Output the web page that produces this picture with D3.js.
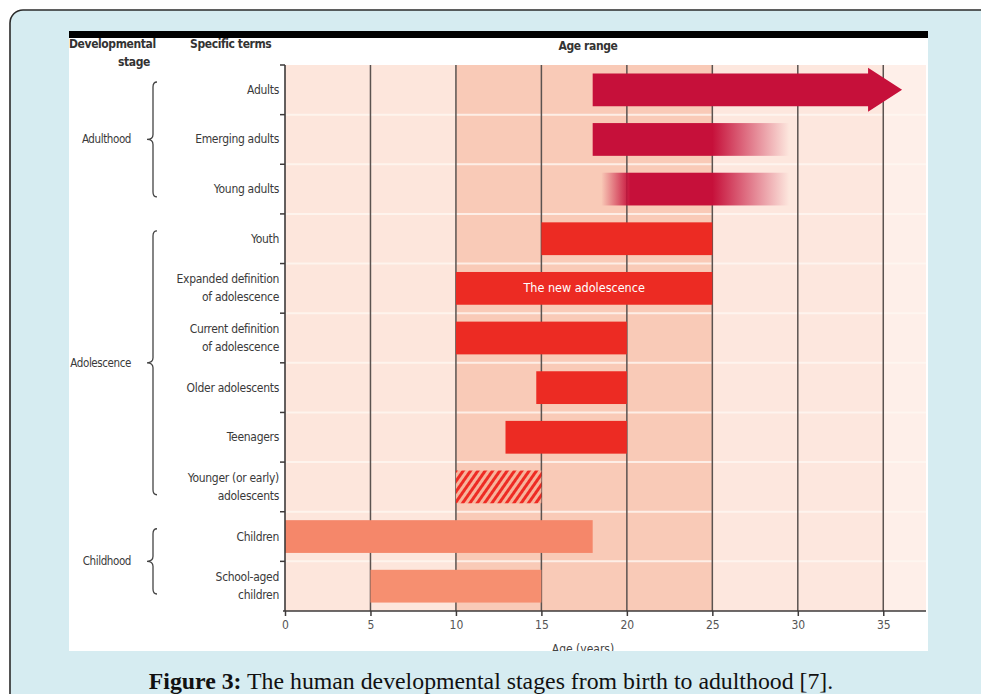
<!DOCTYPE html>
<html><head><meta charset="utf-8">
<style>body{margin:0;background:#fff}svg{display:block}</style>
</head><body>
<div id="container"></div>
<script src="https://cdn.jsdelivr.net/npm/d3@7"></script>
<script>
// rows, top to bottom
const terms = [["Adults"], ["Emerging adults"], ["Young adults"], ["Youth"],
  ["Expanded definition", "of adolescence"], ["Current definition", "of adolescence"],
  ["Older adolescents"], ["Teenagers"], ["Younger (or early)", "adolescents"],
  ["Children"], ["School-aged", "children"]];
const stageOf = ["Adulthood", "Adulthood", "Adulthood", "Adolescence", "Adolescence", "Adolescence",
  "Adolescence", "Adolescence", "Adolescence", "Childhood", "Childhood"];
const startAge = [18, 18, 18.5, 15, 10, 10, 14.7, 12.9, 10, 0, 5];
const endAge = [36.1, 29.5, 29.5, 25, 25, 20, 20, 20, 15, 18, 15];
const fadeInUntil = [null, null, 20.2, null, null, null, null, null, null, null, null];
const fadeOutFrom = [null, 25, 25, null, null, null, null, null, null, null, null];
const barText = ["", "", "", "", "The new adolescence", "", "", "", "", "", ""];
const stages = ["Adulthood", "Adolescence", "Childhood"];
const xTicks = [0, 5, 10, 15, 20, 25, 30, 35];
const shadeFrom = [0, 10, 25, 35];
const shadeTo = [10, 25, 35, 37.5];

const W = 981, H = 694;
const svg = d3.select("#container").append("svg").attr("width", W).attr("height", H);
const defs = svg.append("defs");
const sans = "'Liberation Sans Narrow', 'DejaVu Sans Condensed', sans-serif";

// outer page frame
svg.append("rect").attr("x", 10).attr("y", 10).attr("width", 1100).attr("height", 800)
  .attr("rx", 13).attr("fill", "#d6ecf1").attr("stroke", "#2b2b2b").attr("stroke-width", 1.6);

// figure panel
defs.append("clipPath").attr("id", "panel")
  .append("rect").attr("x", 69).attr("y", 31).attr("width", 859).attr("height", 620);
const panel = svg.append("g").attr("clip-path", "url(#panel)");
panel.append("rect").attr("x", 69).attr("y", 31).attr("width", 859).attr("height", 620).attr("fill", "#fff");
panel.append("rect").attr("x", 69).attr("y", 31).attr("width", 859).attr("height", 7).attr("fill", "#000");

const x = d3.scaleLinear().domain([0, 37.5]).range([285, 926]);
const y = d3.scaleBand().domain(d3.range(terms.length)).range([65, 611]).paddingInner(0.34).paddingOuter(0.17);
const step = y.step();
const rowTop = i => 65 + i * step;

// background shading
const shadeCol = ["#fde6dc", "#f9cab7", "#fde7de", "#feefe9"];
panel.append("g").selectAll("rect").data(shadeFrom).join("rect")
  .attr("x", d => x(d)).attr("width", (d, i) => x(shadeTo[i]) - x(d))
  .attr("y", 65).attr("height", 611 - 65).attr("fill", (d, i) => shadeCol[i]);

// light row separators
panel.append("g").selectAll("line").data(d3.range(1, terms.length)).join("line")
  .attr("x1", x(0) + 1).attr("x2", x(37.5)).attr("y1", rowTop).attr("y2", rowTop)
  .attr("stroke", "#fff8f2").attr("stroke-width", 2).attr("opacity", 0.8);

// vertical grid
panel.append("g").selectAll("line").data(xTicks.slice(1)).join("line")
  .attr("x1", d => x(d)).attr("x2", d => x(d)).attr("y1", 65).attr("y2", 611)
  .attr("stroke", "#5b5350").attr("stroke-width", 1.5);

// hatch pattern
const pat = defs.append("pattern").attr("id", "hatch").attr("patternUnits", "userSpaceOnUse")
  .attr("width", 6).attr("height", 6).attr("patternTransform", "rotate(35)");
pat.append("rect").attr("width", 6).attr("height", 6).attr("fill", "#f7b39b");
pat.append("rect").attr("width", 3).attr("height", 6).attr("fill", "#ee2b24");

function colorOf(i) {
  if (stageOf[i] === "Adulthood") return "#c6103a";
  if (stageOf[i] === "Adolescence") return "#ec2b23";
  return i === 9 ? "#f5876a" : "#f68f70";
}

// gradients for faded bars
terms.forEach((t, i) => {
  if (fadeInUntil[i] == null && fadeOutFrom[i] == null) return;
  const a = startAge[i], b = endAge[i];
  const g = defs.append("linearGradient").attr("id", "fade" + i)
    .attr("gradientUnits", "userSpaceOnUse")
    .attr("x1", x(a)).attr("x2", x(b)).attr("y1", 0).attr("y2", 0);
  const c = colorOf(i);
  const off = v => (v - a) / (b - a);
  g.append("stop").attr("offset", 0).attr("stop-color", c).attr("stop-opacity", fadeInUntil[i] == null ? 1 : 0);
  if (fadeInUntil[i] != null) g.append("stop").attr("offset", off(fadeInUntil[i])).attr("stop-color", c).attr("stop-opacity", 1);
  if (fadeOutFrom[i] != null) g.append("stop").attr("offset", off(fadeOutFrom[i])).attr("stop-color", c).attr("stop-opacity", 1);
  g.append("stop").attr("offset", 1).attr("stop-color", c).attr("stop-opacity", 0);
});

// bars
const bars = panel.append("g");
terms.forEach((t, i) => {
  const y0 = y(i), h = y.bandwidth();
  let fill = colorOf(i);
  if (fadeInUntil[i] != null || fadeOutFrom[i] != null) fill = "url(#fade" + i + ")";
  if (i === 8) fill = "url(#hatch)";
  if (i === 0) {
    // arrow
    const x0 = x(startAge[i]), tip = x(endAge[i]), neck = tip - 34, cy = y0 + h / 2;
    bars.append("path")
      .attr("d", `M${x0},${y0}L${neck},${y0}L${neck},${cy - 22}L${tip},${cy}L${neck},${cy + 22}L${neck},${y0 + h}L${x0},${y0 + h}Z`)
      .attr("fill", fill);
  } else {
    bars.append("rect").attr("x", x(startAge[i])).attr("width", x(endAge[i]) - x(startAge[i]))
      .attr("y", y0).attr("height", h).attr("fill", fill);
  }
  if (barText[i]) {
    bars.append("text").attr("x", (x(startAge[i]) + x(endAge[i])) / 2).attr("y", y0 + h / 2 + 4)
      .attr("text-anchor", "middle").attr("fill", "#fff").attr("font-family", sans)
      .attr("font-size", 12.5).text(barText[i]);
  }
});

// axes
const xAxis = panel.append("g").attr("transform", "translate(0,611)")
  .call(d3.axisBottom(x).tickValues(xTicks).tickSize(5).tickPadding(4));
xAxis.select(".domain").attr("d", `M${x(0) - 2},0H${x(37.5)}`).attr("stroke", "#3d3a3a").attr("stroke-width", 1.6);
xAxis.selectAll(".tick line").attr("stroke", "#3d3a3a").attr("stroke-width", 1.5);
xAxis.selectAll(".tick text").attr("font-family", sans).attr("font-size", 12).attr("fill", "#555");

panel.append("line").attr("x1", x(0)).attr("x2", x(0)).attr("y1", 65).attr("y2", 611)
  .attr("stroke", "#3d3a3a").attr("stroke-width", 1.6);
panel.append("g").selectAll("line").data(d3.range(terms.length)).join("line")
  .attr("x1", x(0) - 5).attr("x2", x(0)).attr("y1", rowTop).attr("y2", rowTop)
  .attr("stroke", "#3d3a3a").attr("stroke-width", 1.5);

// term labels
terms.forEach((t, i) => {
  const cy = y(i) + y.bandwidth() / 2;
  const txt = panel.append("text").attr("text-anchor", "end").attr("font-family", sans)
    .attr("font-size", 12).attr("fill", "#3a3a3a").attr("letter-spacing", -0.3);
  t.forEach((line, k) => {
    txt.append("tspan").attr("x", 279).attr("y", cy + 4 + (k - (t.length - 1) / 2) * 18).text(line);
  });
});

// stage labels and braces
stages.forEach(s => {
  const rows = d3.range(terms.length).filter(i => stageOf[i] === s);
  const top = rowTop(rows[0]) + 17, bot = rowTop(rows[rows.length - 1] + 1) - 17;
  const mid = (rowTop(rows[0]) + rowTop(rows[rows.length - 1] + 1)) / 2;
  const bx = 153;
  panel.append("path")
    .attr("d", `M${bx + 4},${top}Q${bx},${top} ${bx},${top + 5}L${bx},${mid - 5}Q${bx},${mid} ${bx - 6},${mid}` +
      `Q${bx},${mid} ${bx},${mid + 5}L${bx},${bot - 5}Q${bx},${bot} ${bx + 4},${bot}`)
    .attr("fill", "none").attr("stroke", "#444").attr("stroke-width", 1.3);
  panel.append("text").attr("x", 131).attr("y", mid + 4).attr("text-anchor", "end")
    .attr("font-family", sans).attr("font-size", 11.5).attr("fill", "#3a3a3a").attr("letter-spacing", -0.4).text(s);
});

// headers
const hdr = (tx, ty, s, anchor) => panel.append("text").attr("x", tx).attr("y", ty)
  .attr("text-anchor", anchor).attr("font-family", sans).attr("font-weight", "bold")
  .attr("font-size", 12).attr("fill", "#333").attr("letter-spacing", -0.4).text(s);
hdr(69, 48, "Developmental", "start");
hdr(150, 66, "stage", "end");
hdr(190, 48, "Specific terms", "start");
hdr(588, 50, "Age range", "middle");

panel.append("text").attr("x", 583).attr("y", 653).attr("text-anchor", "middle")
  .attr("font-family", sans).attr("font-size", 12).attr("fill", "#444").text("Age (years)");

// caption
const cap = svg.append("text").attr("x", 491).attr("y", 689).attr("text-anchor", "middle")
  .attr("font-family", "'Liberation Serif', 'DejaVu Serif', serif").attr("font-size", 23.8).attr("fill", "#111");
cap.append("tspan").attr("font-weight", "bold").text("Figure 3:");
cap.append("tspan").text(" The human developmental stages from birth to adulthood [7].");
</script>
</body></html>
